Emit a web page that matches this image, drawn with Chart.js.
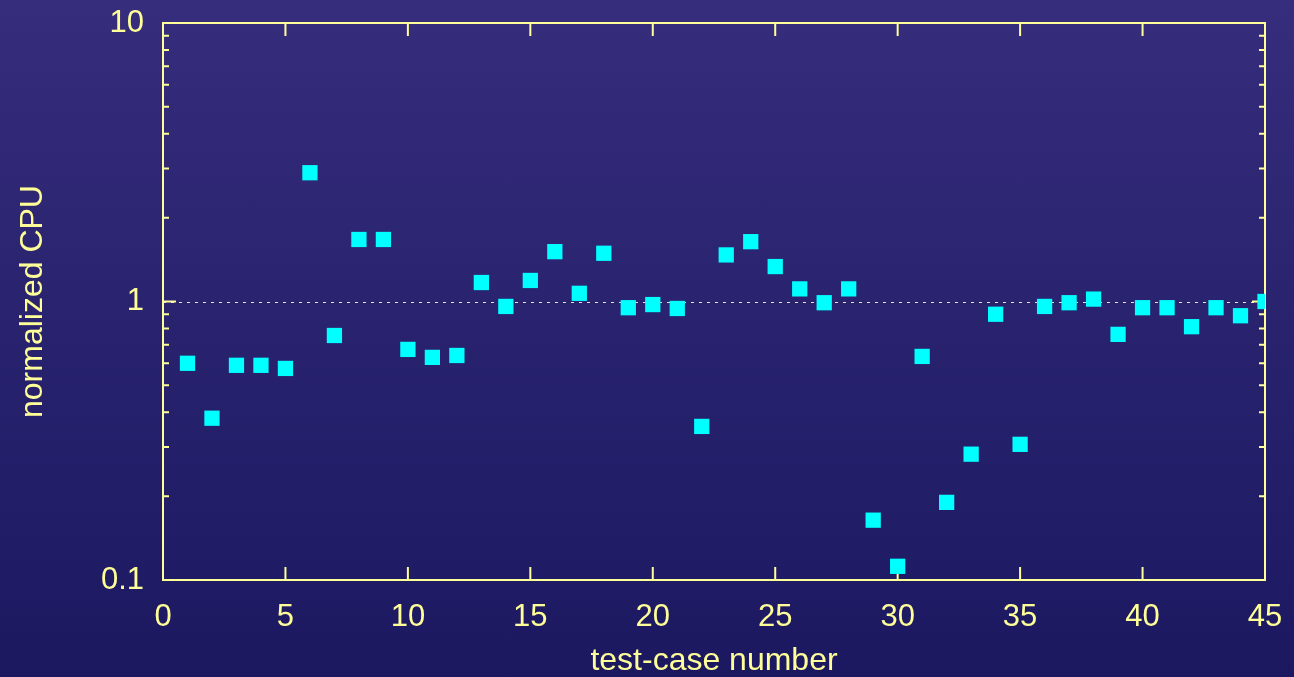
<!DOCTYPE html>
<html>
<head>
<meta charset="utf-8">
<script src="https://cdn.jsdelivr.net/npm/chart.js@4.4.1/dist/chart.umd.min.js"></script>
<style>
    html, body { margin: 0; padding: 0; }
    body {
        width: 1294px;
        height: 677px;
        overflow: hidden;
        background: linear-gradient(#362d7c, #1b1860);
    }
    #cpuChart { display: block; }
</style>
</head>
<body>
<canvas id="cpuChart" width="1294" height="677"></canvas>
<script>
// dados
const testCases = [1, 2, 3, 4, 5, 6, 7, 8, 9, 10, 11, 12, 13, 14, 15, 16, 17, 18, 19, 20, 21, 22, 23,
    24, 25, 26, 27, 28, 29, 30, 31, 32, 33, 34, 35, 36, 37, 38, 39, 40, 41, 42, 43, 44, 45];
const normalizedCpu = [0.60, 0.381, 0.59, 0.59, 0.575, 2.90, 0.755, 1.67, 1.67, 0.673, 0.630, 0.640,
    1.17, 0.96, 1.19, 1.51, 1.07, 1.49, 0.95, 0.975, 0.944, 0.356, 1.47, 1.64, 1.335, 1.11, 0.99,
    1.11, 0.164, 0.112, 0.635, 0.19, 0.283, 0.90, 0.307, 0.96, 0.99, 1.02, 0.762, 0.95, 0.95,
    0.812, 0.95, 0.889, 1.0];
const xTicks = [0, 5, 10, 15, 20, 25, 30, 35, 40, 45];
const yMajorTicks = [0.1, 1, 10];
const yMinorTicks = [0.2, 0.3, 0.4, 0.5, 0.6, 0.7, 0.8, 0.9, 2, 3, 4, 5, 6, 7, 8, 9];

const axisColor = '#ffff99';
const pointColor = '#00ffff';
const fontFamily = '"Liberation Sans", Arial, sans-serif';

// Moldura, marcas de escala e linha pontilhada no 1 (estilo gnuplot)
const framePlugin = {
    id: 'frame',
    beforeDatasetsDraw(chart) {
        const ctx = chart.ctx;
        const area = chart.chartArea;
        const xs = chart.scales.x;
        const ys = chart.scales.y;
        ctx.save();

        // linha pontilhada em y = 1
        const y1 = Math.round(ys.getPixelForValue(1)) + 0.5;
        ctx.strokeStyle = '#e8e8c8';
        ctx.lineWidth = 1;
        ctx.setLineDash([3, 5]);
        ctx.beginPath();
        ctx.moveTo(area.left, y1);
        ctx.lineTo(area.right, y1);
        ctx.stroke();
        ctx.setLineDash([]);

        ctx.strokeStyle = axisColor;
        ctx.lineWidth = 2;
        ctx.beginPath();
        xTicks.forEach(v => {
            const px = xs.getPixelForValue(v);
            ctx.moveTo(px, area.bottom);
            ctx.lineTo(px, area.bottom - 13);
            ctx.moveTo(px, area.top);
            ctx.lineTo(px, area.top + 13);
        });
        yMajorTicks.forEach(v => {
            const py = ys.getPixelForValue(v);
            ctx.moveTo(area.left, py);
            ctx.lineTo(area.left + 13, py);
            ctx.moveTo(area.right, py);
            ctx.lineTo(area.right - 13, py);
        });
        yMinorTicks.forEach(v => {
            const py = ys.getPixelForValue(v);
            ctx.moveTo(area.left, py);
            ctx.lineTo(area.left + 6, py);
            ctx.moveTo(area.right, py);
            ctx.lineTo(area.right - 6, py);
        });
        ctx.stroke();

        ctx.strokeRect(area.left, area.top, area.right - area.left, area.bottom - area.top);
        ctx.restore();
    }
};

// tamanho fixo dos eixos, sem folga extra para os rótulos
function fixAxis(scale, size) {
    if (scale.isHorizontal()) {
        scale.height = size;
    } else {
        scale.width = size;
    }
    scale.paddingTop = 0;
    scale.paddingBottom = 0;
    scale.paddingLeft = 0;
    scale.paddingRight = 0;
}

const ctx = document.getElementById('cpuChart').getContext('2d');
new Chart(ctx, {
    type: 'scatter',
    data: {
        datasets: [{
            label: 'normalized CPU',
            data: testCases.map((t, i) => ({ x: t, y: normalizedCpu[i] })),
            pointStyle: 'rect',
            pointRadius: 10.8,
            pointHoverRadius: 10.8,
            borderWidth: 0,
            backgroundColor: pointColor,
            borderColor: pointColor
        }]
    },
    options: {
        responsive: false,
        animation: false,
        events: [],
        layout: {
            padding: { top: 23, right: 29, left: 0, bottom: 0 }
        },
        plugins: {
            legend: { display: false },
            tooltip: { enabled: false }
        },
        scales: {
            x: {
                type: 'linear',
                min: 0,
                max: 45,
                afterBuildTicks: scale => {
                    scale.ticks = xTicks.map(v => ({ value: v }));
                },
                afterFit: scale => fixAxis(scale, 97),
                grid: { display: false, drawTicks: false },
                border: { display: false },
                ticks: {
                    autoSkip: false,
                    maxRotation: 0,
                    padding: 19,
                    color: axisColor,
                    font: { family: fontFamily, size: 31 }
                },
                title: {
                    display: true,
                    text: 'test-case number',
                    color: axisColor,
                    padding: 0,
                    font: { family: fontFamily, size: 32, lineHeight: 1 }
                }
            },
            y: {
                type: 'logarithmic',
                min: 0.1,
                max: 10,
                afterBuildTicks: scale => {
                    scale.ticks = yMajorTicks.map(v => ({ value: v }));
                },
                afterFit: scale => fixAxis(scale, 163),
                grid: { display: false, drawTicks: false },
                border: { display: false },
                ticks: {
                    autoSkip: false,
                    padding: 19,
                    color: axisColor,
                    font: { family: fontFamily, size: 31 },
                    callback: value => String(value)
                },
                title: {
                    display: true,
                    text: 'normalized CPU',
                    color: axisColor,
                    padding: { top: 17, bottom: 0 },
                    font: { family: fontFamily, size: 32, lineHeight: 1 }
                }
            }
        }
    },
    plugins: [framePlugin]
});
</script>
</body>
</html>
